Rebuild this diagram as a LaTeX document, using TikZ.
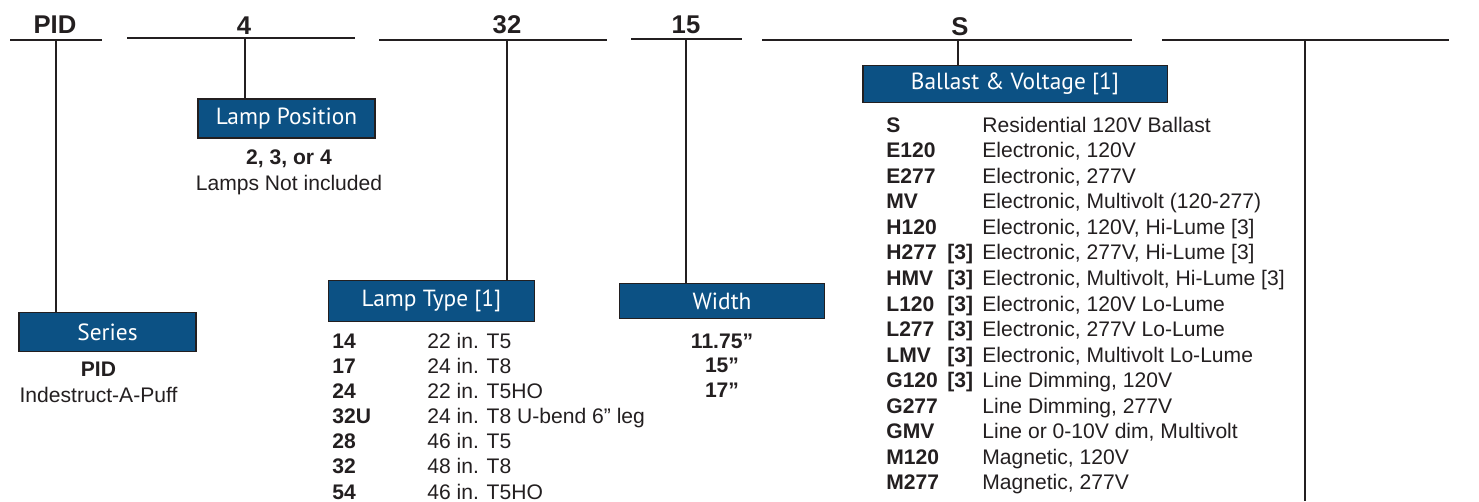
\documentclass[tikz,border=0pt]{standalone}
\usepackage{fontspec}
\setmainfont{Liberation Sans}
\newfontfamily\tagfont{PT Sans}
\usetikzlibrary{positioning}
\definecolor{pidblue}{HTML}{0C5184}
\definecolor{pidink}{HTML}{231F20}
\newcommand\bodysize{\fontsize{12}{14}\selectfont}

\begin{document}
\begin{tikzpicture}[
  x=0.02cm, y=-0.02cm,
  font=\bodysize, text=pidink,
  tag/.style={draw=pidink, line width=1.1pt, fill=pidblue, text=white,
              font=\tagfont\fontsize{13.3}{15}\selectfont, inner sep=0pt},
  rule/.style={draw=pidink, line width=1.2pt},
  head/.style={anchor=base, font=\bfseries\fontsize{14.6}{16}\selectfont, inner sep=0pt},
  code/.style={anchor=base west, font=\bodysize\bfseries, inner sep=0pt},
  desc/.style={anchor=base west, inner sep=0pt},
  val/.style={anchor=base, inner sep=0pt},
  bval/.style={val, font=\bodysize\bfseries}]
\useasboundingbox (0,0) rectangle (1479,501);

% ---- code line ---------------------------------------------------------
\coordinate (pidL) at (10,40);    \coordinate (pidR) at (102,40);
\coordinate (posL) at (127,38);   \coordinate (posR) at (355,38);
\coordinate (typL) at (379,40);   \coordinate (typR) at (607,40);
\coordinate (widL) at (631,39);   \coordinate (widR) at (742,39);
\coordinate (balL) at (762,40);   \coordinate (balR) at (1132,40);
\coordinate (optL) at (1162,40);  \coordinate (optR) at (1449,40);
\foreach \s in {pid,pos,typ,wid,bal,opt}
  \draw[rule] (\s L) -- (\s R);

\node[head] (pidH) at (55,33) {PID};
\node[head] (posH) at (244,34) {4};
\node[head] (typH) at (507,33) {32};
\node[head] (widH) at (686,33) {15};
\node[head] (balH) at (960,35) {S};

\coordinate (pidT) at (56,40);
\coordinate (posT) at (245,38);
\coordinate (typT) at (507,40);
\coordinate (widT) at (686,39);
\coordinate (balT) at (958,40);
\coordinate (optT) at (1305,40);
\coordinate (optB) at (1305,501);

% ---- series ------------------------------------------------------------
\node[tag, minimum width=3.54cm, minimum height=0.78cm] (series) at (107.5,332) {Series};
\draw[rule, line width=1.1pt] (pidT) -- (pidT |- series.north);
\node[bval] (serCode) at (98.5,376) {PID};
\node[val] (serName) at (98.5,402) {Indestruct-A-Puff};

% ---- lamp position -----------------------------------------------------
\node[tag, minimum width=3.54cm, minimum height=0.77cm] (lampPos) at (286.5,118.5) {Lamp Position};
\draw[rule, line width=1.1pt] (posT) -- (posT |- lampPos.north);
\node[bval] (posCode) at (289,164) {2, 3, or 4};
\node[val] (posNote) at (289,190) {Lamps Not included};

% ---- lamp type ---------------------------------------------------------
\node[tag, minimum width=4.12cm, minimum height=0.82cm] (lampType) at (431.5,301) {Lamp Type [1]};
\draw[rule, line width=1.1pt] (typT) -- (typT |- lampType.north);
\foreach \c/\d [count=\i from 0] in {14/22 in. T5, 17/24 in. T8, 24/22 in. T5HO,
    32U/24 in. T8 U-bend 6” leg, 28/46 in. T5, 32/48 in. T8, 54/46 in. T5HO}{
  \node[code] (typC\i) at (332,348+25.17*\i) {\c};
  \node[desc] (typD\i) at (427,348+25.17*\i) {\d};
}

% ---- width -------------------------------------------------------------
\node[tag, minimum width=4.1cm, minimum height=0.7cm] (width) at (722,301) {Width};
\draw[rule, line width=1.1pt] (widT) -- (widT |- width.north);
\foreach \w [count=\i from 0] in {11.75”, 15”, 17”}
  \node[bval] (widV\i) at (722,348+24.5*\i) {\w};

% ---- ballast & voltage -------------------------------------------------
\node[tag, minimum width=6.1cm, minimum height=0.74cm] (ballast) at (1015,84) {Ballast \& Voltage [1]};
\draw[rule, line width=0.6pt] (balT) -- (balT |- ballast.north);
\foreach \c/\d [count=\i from 0] in {S/Residential 120V Ballast,
    E120/{Electronic, 120V}, E277/{Electronic, 277V},
    MV/{Electronic, Multivolt (120-277)}, H120/{Electronic, 120V, Hi-Lume [3]},
    H277/{Electronic, 277V, Hi-Lume [3]}, HMV/{Electronic, Multivolt, Hi-Lume [3]},
    L120/{Electronic, 120V Lo-Lume}, L277/{Electronic, 277V Lo-Lume},
    LMV/{Electronic, Multivolt Lo-Lume}, G120/{Line Dimming, 120V},
    G277/{Line Dimming, 277V}, GMV/{Line or 0-10V dim, Multivolt},
    M120/{Magnetic, 120V}, M277/{Magnetic, 277V}}{
  \node[code] (balC\i) at (886,132+25.57*\i) {\c};
  \node[desc] (balD\i) at (982,132+25.57*\i) {\d};
}
\foreach \i in {5,...,10}
  \node[code] (balN\i) at (947,132+25.57*\i) {[3]};

% ---- options -----------------------------------------------------------
\draw[rule, line width=1.1pt] (optT) -- (optB);
\end{tikzpicture}
\end{document}
